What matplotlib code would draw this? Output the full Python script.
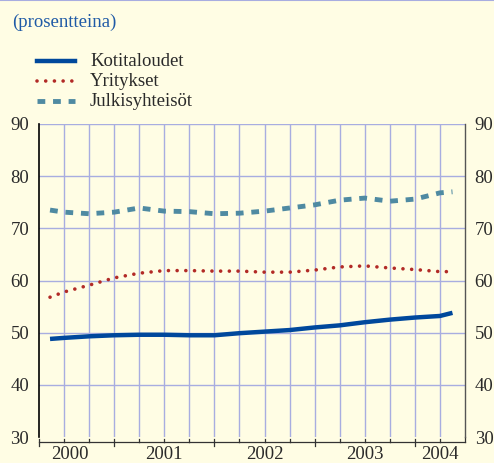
import matplotlib.pyplot as plt
from matplotlib.lines import Line2D

# quarters counted from the left edge of the plot
quarters = [0.44, 1, 2, 3, 4, 5, 6, 7, 8, 9, 10, 11, 12, 13, 14, 15, 16, 16.5]
kotitaloudet = [48.8, 49.0, 49.3, 49.5, 49.6, 49.6, 49.5, 49.5, 49.9, 50.2,
                50.5, 51.0, 51.4, 52.0, 52.5, 52.9, 53.2, 53.8]
yritykset = [56.8, 57.8, 59.1, 60.5, 61.4, 61.9, 61.9, 61.8, 61.8, 61.6,
             61.6, 62.0, 62.6, 62.8, 62.4, 62.1, 61.7, 61.7]
julkisyhteisot = [73.5, 73.1, 72.8, 73.1, 73.9, 73.3, 73.2, 72.8, 72.9, 73.3,
                  73.9, 74.5, 75.4, 75.8, 75.2, 75.6, 76.8, 77.0]

year_labels = ["2000", "2001", "2002", "2003", "2004"]
year_pos = [1.25, 5, 9, 13, 16]
year_bounds = [0, 3, 7, 11, 15]
y_ticks = [30, 40, 50, 60, 70, 80, 90]

bg = "#FFFDE4"
grid_c = "#A8ADE0"
blue = "#00489C"
red = "#B22A26"
teal = "#4F8AA2"
txt = "#2A2A2A"
fs = 13.5

plt.rcParams["font.family"] = "serif"
plt.rcParams["font.serif"] = ["Liberation Serif", "DejaVu Serif"]

fig = plt.figure(figsize=(4.94, 4.63), dpi=100, facecolor=bg)
ax = fig.add_axes([39 / 494, 26 / 463, 426 / 494, 313 / 463])
ax.set_facecolor(bg)

ax.set_xlim(0, 17)
ax.set_ylim(30, 90)

for q in range(1, 17):
    ax.axvline(q, color=grid_c, lw=1.0, zorder=1)
for v in y_ticks[1:]:
    ax.axhline(v, color=grid_c, lw=1.0, zorder=1)

dots = (0, (0.01, 2.4))
dashes = (0, (1.6, 1.6))
ax.plot(quarters, julkisyhteisot, color=teal, lw=3.5, ls=dashes,
        dash_capstyle="butt", zorder=3)
ax.plot(quarters, yritykset, color=red, lw=2.6, ls=dots,
        dash_capstyle="round", zorder=3)
ax.plot(quarters, kotitaloudet, color=blue, lw=3.2, solid_capstyle="butt", zorder=3)

ax.set_yticks(y_ticks)
ax.tick_params(axis="y", length=0, labelsize=fs, labelcolor=txt, pad=7,
               labelleft=True, labelright=True)
ax.set_xticks([])

for s in ["top", "bottom"]:
    ax.spines[s].set_visible(False)
ax.spines["left"].set_color("black")
ax.spines["left"].set_linewidth(1.2)
ax.spines["right"].set_color("#555555")
ax.spines["right"].set_linewidth(1.0)

# bottom axis with little hooked ticks
tr = ax.get_xaxis_transform()
seg_y = -0.016
for q in range(0, 17):
    ax.plot([q, q + 1], [seg_y, seg_y], color="#333333", lw=0.9, transform=tr,
            clip_on=False)
    low = -0.03 if q in year_bounds else seg_y
    ax.plot([q, q], [low, -0.006], color="#333333", lw=0.9, transform=tr,
            clip_on=False)
ax.plot([17, 17], [seg_y, 0], color="#333333", lw=0.9, transform=tr, clip_on=False)

for lab, p in zip(year_labels, year_pos):
    ax.text(p, -0.03, lab, transform=tr, ha="center", va="top", fontsize=fs,
            color=txt)

# title and legend
fig.text(12 / 494, 1 - 22 / 463, "(prosentteina)", color="#1F5AA6", fontsize=fs,
         va="center", ha="left")
leg_items = [("Kotitaloudet", blue, dict(lw=3.2, ls="-")),
             ("Yritykset", red, dict(lw=2.6, ls=dots, dash_capstyle="round")),
             ("Julkisyhteisöt", teal, dict(lw=3.5, ls=dashes))]
for i, (lab, c, kw) in enumerate(leg_items):
    yy = 1 - (61 + 20 * i) / 463
    fig.add_artist(Line2D([37 / 494, 75 / 494], [yy, yy], color=c,
                          transform=fig.transFigure, **kw))
    fig.text(90 / 494, yy, lab, color=txt, fontsize=fs, va="center", ha="left")

fig.add_artist(Line2D([0, 1], [0.999, 0.999], color="#A8ADE0", lw=1.5,
                      transform=fig.transFigure))

plt.savefig("out.png", dpi=100, facecolor=bg)
